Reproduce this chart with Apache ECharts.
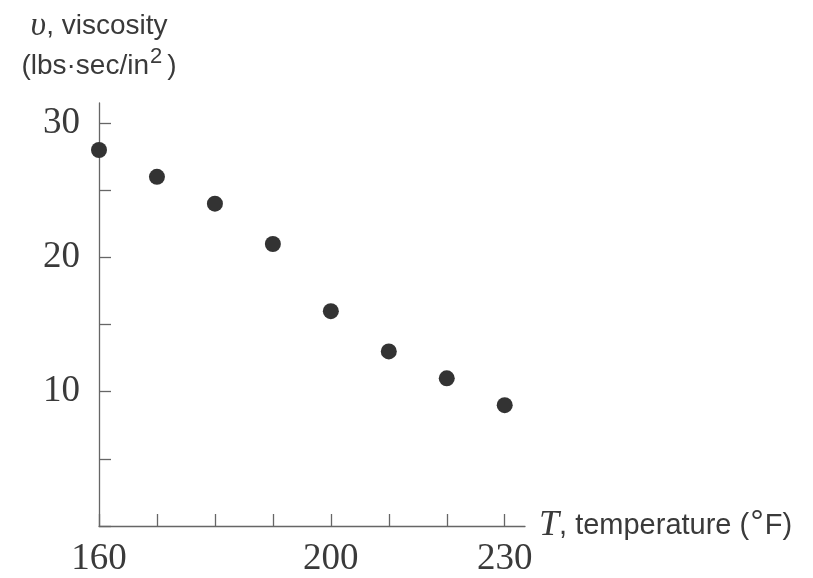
<!DOCTYPE html>
<html>
<head>
<meta charset="utf-8">
<script src="https://cdn.jsdelivr.net/npm/echarts@6/dist/echarts.min.js"></script>
<style>
  html, body { margin: 0; padding: 0; background: #fff; }
  #chart { width: 813px; height: 578px; }
</style>
</head>
<body>
<div id="chart"></div>
<script>
const temperature = [160, 170, 180, 190, 200, 210, 220, 230];
const viscosity = [28, 26, 24, 21, 16, 13, 11, 9];
const xLabels = [160, 200, 230];
const yLabels = [10, 20, 30];

const ink = '#3a3a3a';
const axisInk = '#666';
const serif = '"Liberation Serif", "DejaVu Serif", serif';
const sans = '"Liberation Sans", Arial, sans-serif';

const chart = echarts.init(document.getElementById('chart'));

const option = {
  backgroundColor: '#fff',
  animation: false,
  grid: { left: 99, right: 288, top: 103, bottom: 50 },
  xAxis: {
    type: 'value',
    min: 160,
    max: 233.5,
    interval: 10,
    splitLine: { show: false },
    axisLine: { lineStyle: { color: axisInk, width: 1.3 } },
    axisTick: { inside: true, length: 12, lineStyle: { color: axisInk, width: 1.3 } },
    axisLabel: {
      margin: 15,
      color: ink,
      fontFamily: serif,
      fontSize: 37,
      showMaxLabel: false,
      formatter: v => (xLabels.includes(v) ? String(v) : '')
    },
    name: '{i|T}{s|, temperature (}{deg|°}{s|F)}',
    nameLocation: 'end',
    nameGap: 14,
    nameTextStyle: {
      align: 'left',
      verticalAlign: 'middle',
      rich: {
        i: { fontFamily: serif, fontStyle: 'italic', fontSize: 36, color: ink },
        s: { fontFamily: sans, fontSize: 29, color: ink },
        deg: { fontFamily: sans, fontSize: 34, color: ink, padding: [0, 1, 4, 1] }
      }
    }
  },
  yAxis: {
    type: 'value',
    min: 0,
    max: 31.5,
    interval: 5,
    splitLine: { show: false },
    axisLine: { lineStyle: { color: axisInk, width: 1.3 } },
    axisTick: { inside: true, length: 12, lineStyle: { color: axisInk, width: 1.3 } },
    axisLabel: {
      margin: 19,
      color: ink,
      fontFamily: serif,
      fontSize: 37,
      showMaxLabel: false,
      formatter: v => (yLabels.includes(v) ? String(v) : '')
    },
    name: '{i|υ}{s|, viscosity}\n{s|(lbs·sec/in}{sup|2}{s|)}',
    nameLocation: 'end',
    nameGap: 17,
    nameTextStyle: {
      align: 'center',
      verticalAlign: 'bottom',
      lineHeight: 40,
      rich: {
        i: { fontFamily: serif, fontStyle: 'italic', fontSize: 34, color: ink, lineHeight: 40 },
        s: { fontFamily: sans, fontSize: 28, color: ink, lineHeight: 40 },
        sup: { fontFamily: sans, fontSize: 22, color: ink, lineHeight: 40, padding: [0, 5, 18, 1] }
      }
    }
  },
  series: [{
    type: 'scatter',
    data: temperature.map((t, i) => [t, viscosity[i]]),
    symbolSize: 16,
    itemStyle: { color: '#333', opacity: 1 }
  }]
};

chart.setOption(option);
</script>
</body>
</html>
